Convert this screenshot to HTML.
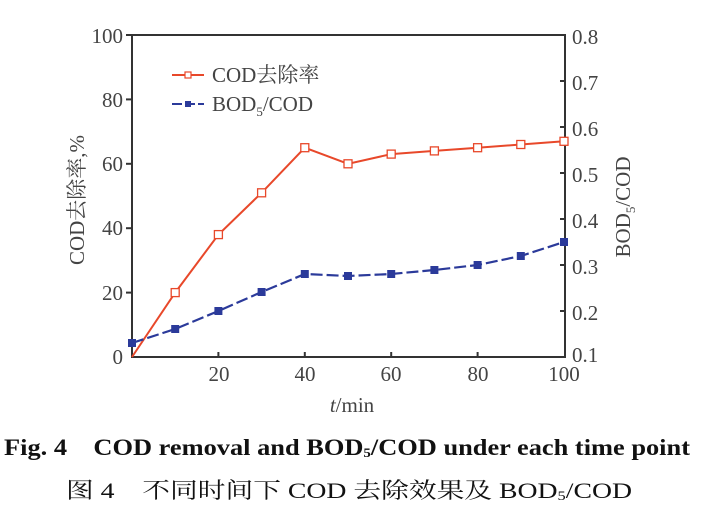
<!DOCTYPE html>
<html><head><meta charset="utf-8"><style>
html,body{margin:0;padding:0;background:#fff;}
svg{display:block;}
text{font-family:"Liberation Serif","Noto Serif CJK SC",serif;}
</style></head><body>
<svg width="708" height="521" viewBox="0 0 708 521" xmlns="http://www.w3.org/2000/svg">
<rect x="0" y="0" width="708" height="521" fill="#fff"/>
<rect x="132" y="35" width="433" height="322" fill="none" stroke="#333" stroke-width="2"/>
<g stroke="#333" stroke-width="2">
<line x1="126" y1="35" x2="132" y2="35"/><line x1="126" y1="99.4" x2="132" y2="99.4"/>
<line x1="126" y1="163.8" x2="132" y2="163.8"/><line x1="126" y1="228.2" x2="132" y2="228.2"/>
<line x1="126" y1="292.6" x2="132" y2="292.6"/>
<line x1="218.4" y1="357" x2="218.4" y2="352"/><line x1="304.8" y1="357" x2="304.8" y2="352"/>
<line x1="391.2" y1="357" x2="391.2" y2="352"/><line x1="477.6" y1="357" x2="477.6" y2="352"/>
<line x1="560" y1="81" x2="565" y2="81"/><line x1="560" y1="127" x2="565" y2="127"/>
<line x1="560" y1="173" x2="565" y2="173"/><line x1="560" y1="219" x2="565" y2="219"/>
<line x1="560" y1="265" x2="565" y2="265"/><line x1="560" y1="311" x2="565" y2="311"/>
</g>
<g font-size="21" fill="#444" text-anchor="end">
<text x="123" y="43">100</text><text x="123" y="107">80</text><text x="123" y="171">60</text>
<text x="123" y="235">40</text><text x="123" y="300">20</text><text x="123" y="364">0</text>
</g>
<g font-size="21" fill="#444" text-anchor="middle">
<text x="219" y="381">20</text><text x="305" y="381">40</text><text x="391" y="381">60</text>
<text x="478" y="381">80</text><text x="564" y="381">100</text>
</g>
<g font-size="21" fill="#444">
<text x="572" y="44">0.8</text><text x="572" y="90">0.7</text><text x="572" y="136">0.6</text>
<text x="572" y="182">0.5</text><text x="572" y="228">0.4</text><text x="572" y="274">0.3</text>
<text x="572" y="320">0.2</text><text x="572" y="362">0.1</text>
</g>
<text x="352" y="412" font-size="21" fill="#444" text-anchor="middle"><tspan font-style="italic">t</tspan>/min</text>
<text transform="translate(84,200) rotate(-90)" font-size="21" fill="#444" text-anchor="middle">COD去除率,%</text>
<text transform="translate(630,207) rotate(-90)" font-size="21" fill="#444" text-anchor="middle">BOD<tspan font-size="13" dy="5">5</tspan><tspan dy="-5">/COD</tspan></text>
<line x1="172" y1="75" x2="204" y2="75" stroke="#e8482a" stroke-width="2"/>
<rect x="185" y="72" width="6" height="6" fill="#fff" stroke="#e8482a" stroke-width="1.2"/>
<text x="212" y="82" font-size="21" fill="#444">COD去除率</text>
<line x1="172" y1="104" x2="204" y2="104" stroke="#2b3a9a" stroke-width="2" stroke-dasharray="10,3"/>
<rect x="185" y="101" width="6" height="6" fill="#2b3a9a"/>
<text x="212" y="111" font-size="21" fill="#444">BOD<tspan font-size="13" dy="5">5</tspan><tspan dy="-5">/COD</tspan></text>
<polyline fill="none" stroke="#e8482a" stroke-width="2" points="132,357 175.2,292.6 218.4,234.6 261.6,192.8 304.8,147.7 348,163.8 391.2,154.1 434.4,150.9 477.6,147.7 520.8,144.5 564,141.3"/>
<g fill="#fff" stroke="#e8482a" stroke-width="1.3">
<rect x="171.2" y="288.6" width="8" height="8"/><rect x="214.4" y="230.6" width="8" height="8"/>
<rect x="257.6" y="188.8" width="8" height="8"/><rect x="300.8" y="143.7" width="8" height="8"/>
<rect x="344" y="159.8" width="8" height="8"/><rect x="387.2" y="150.1" width="8" height="8"/>
<rect x="430.4" y="146.9" width="8" height="8"/><rect x="473.6" y="143.7" width="8" height="8"/>
<rect x="516.8" y="140.5" width="8" height="8"/><rect x="560" y="137.3" width="8" height="8"/>
</g>
<polyline fill="none" stroke="#2b3a9a" stroke-width="2.2" stroke-dasharray="12,4" points="132,343 175.2,329 218.4,311 261.6,292 304.8,274 348,276 391.2,274 434.4,270 477.6,265 520.8,256 564,242"/>
<g fill="#2b3a9a">
<rect x="128" y="339" width="8" height="8"/><rect x="171.2" y="325" width="8" height="8"/>
<rect x="214.4" y="307" width="8" height="8"/><rect x="257.6" y="288" width="8" height="8"/>
<rect x="300.8" y="270" width="8" height="8"/><rect x="344" y="272" width="8" height="8"/>
<rect x="387.2" y="270" width="8" height="8"/><rect x="430.4" y="266" width="8" height="8"/>
<rect x="473.6" y="261" width="8" height="8"/><rect x="516.8" y="252" width="8" height="8"/>
<rect x="560" y="238" width="8" height="8"/>
</g>
<text x="4" y="455" font-size="23" font-weight="bold" fill="#111" textLength="686" lengthAdjust="spacingAndGlyphs">Fig. 4&#160;&#160;&#160;&#160;COD removal and BOD<tspan font-size="13" dy="2">5</tspan><tspan dy="-2">/COD under each time point</tspan></text>
<text x="66" y="498" font-size="22" fill="#111" font-family="'Liberation Serif','Noto Sans CJK SC',sans-serif" textLength="566" lengthAdjust="spacingAndGlyphs">图 4&#160;&#160;&#160;&#160;不同时间下 COD 去除效果及 BOD<tspan font-size="13" dy="2">5</tspan><tspan dy="-2">/COD</tspan></text>
</svg>
</body></html>
